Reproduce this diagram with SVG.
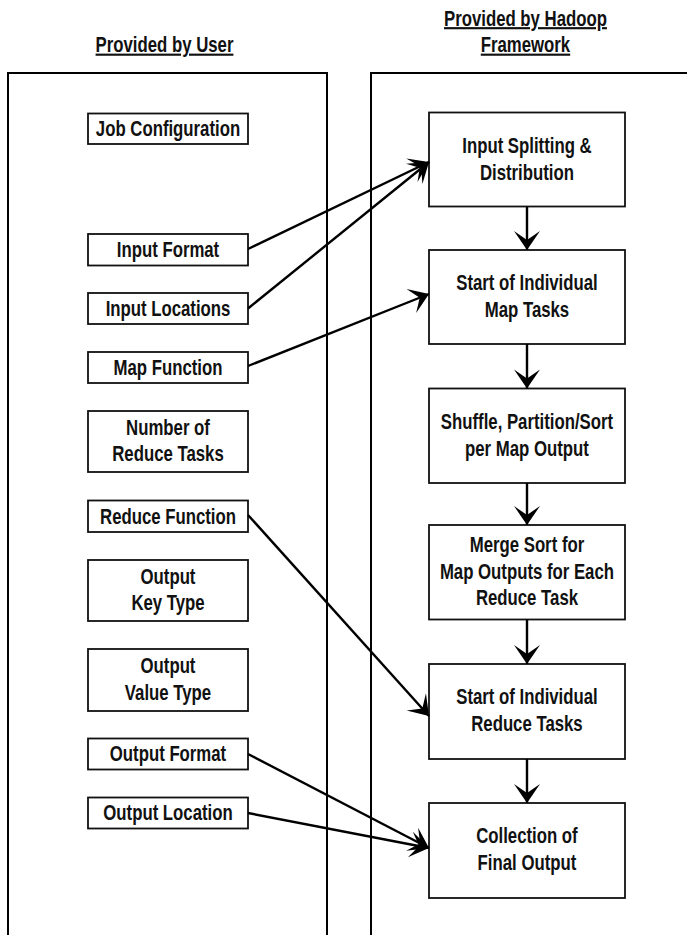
<svg xmlns="http://www.w3.org/2000/svg" width="687" height="935" viewBox="0 0 687 935">
<defs>
<style>
text{font-family:"Liberation Sans",Arial,sans-serif;font-weight:bold;font-size:21.5px;fill:#111;text-anchor:middle}
.hd{text-decoration:underline}
.panel{fill:none;stroke:#000;stroke-width:2}
.box{fill:#fff;stroke:#111;stroke-width:1.8}
.conn{fill:none;stroke:#000;stroke-width:2.4}
</style>
<marker id="ah" markerUnits="userSpaceOnUse" markerWidth="24" markerHeight="28" viewBox="-20 -14 22 28" refX="0" refY="0" orient="auto">
<path d="M0,0 L-19,-13 L-10,0 L-19,13 Z" fill="#000"/>
</marker>
</defs>
<g id="headings">
<text class="hd" transform="scale(0.78 1)" x="210.9" y="52.5">Provided by User</text>
<text class="hd" transform="scale(0.78 1)" x="673.7" y="26">Provided by Hadoop</text>
<text class="hd" transform="scale(0.78 1)" x="673.7" y="52.5">Framework</text>
</g>
<g id="panels">
<rect class="panel" x="8" y="73" width="319" height="880"/>
<rect class="panel" x="371" y="73" width="340" height="880"/>
</g>
<g id="job-configuration"><rect class="box" x="88" y="113.5" width="160" height="30.5"/><text transform="scale(0.78 1)" x="215.4" y="136.5">Job Configuration</text></g>
<g id="input-format"><rect class="box" x="88" y="234" width="160" height="31.5"/><text transform="scale(0.78 1)" x="215.4" y="257.5">Input Format</text></g>
<g id="input-locations"><rect class="box" x="88" y="293" width="160" height="31"/><text transform="scale(0.78 1)" x="215.4" y="316">Input Locations</text></g>
<g id="map-function"><rect class="box" x="88" y="352" width="160" height="31"/><text transform="scale(0.78 1)" x="215.4" y="375">Map Function</text></g>
<g id="number-of-reduce-tasks"><rect class="box" x="88" y="411" width="160" height="61"/><text transform="scale(0.78 1)" x="215.4" y="435">Number of</text><text transform="scale(0.78 1)" x="215.4" y="461.5">Reduce Tasks</text></g>
<g id="reduce-function"><rect class="box" x="88" y="500.5" width="160" height="31.5"/><text transform="scale(0.78 1)" x="215.4" y="524">Reduce Function</text></g>
<g id="output-key-type"><rect class="box" x="88" y="560" width="160" height="61"/><text transform="scale(0.78 1)" x="215.4" y="584">Output</text><text transform="scale(0.78 1)" x="215.4" y="610.5">Key Type</text></g>
<g id="output-value-type"><rect class="box" x="88" y="649" width="160" height="62"/><text transform="scale(0.78 1)" x="215.4" y="673.5">Output</text><text transform="scale(0.78 1)" x="215.4" y="700">Value Type</text></g>
<g id="output-format"><rect class="box" x="88" y="738.5" width="160" height="31"/><text transform="scale(0.78 1)" x="215.4" y="761.5">Output Format</text></g>
<g id="output-location"><rect class="box" x="88" y="797.5" width="160" height="31"/><text transform="scale(0.78 1)" x="215.4" y="820.5">Output Location</text></g>
<g id="input-splitting"><rect class="box" x="429" y="112.5" width="196" height="94"/><text transform="scale(0.78 1)" x="675.6" y="153">Input Splitting &amp;</text><text transform="scale(0.78 1)" x="675.6" y="180">Distribution</text></g>
<g id="start-map-tasks"><rect class="box" x="429" y="250" width="196" height="94"/><text transform="scale(0.78 1)" x="675.6" y="290.5">Start of Individual</text><text transform="scale(0.78 1)" x="675.6" y="317.5">Map Tasks</text></g>
<g id="shuffle-partition-sort"><rect class="box" x="429" y="388.5" width="196" height="94.5"/><text transform="scale(0.78 1)" x="675.6" y="429">Shuffle, Partition/Sort</text><text transform="scale(0.78 1)" x="675.6" y="456">per Map Output</text></g>
<g id="merge-sort"><rect class="box" x="429" y="525" width="196" height="94.5"/><text transform="scale(0.78 1)" x="675.6" y="552">Merge Sort for</text><text transform="scale(0.78 1)" x="675.6" y="579">Map Outputs for Each</text><text transform="scale(0.78 1)" x="675.6" y="605.5">Reduce Task</text></g>
<g id="start-reduce-tasks"><rect class="box" x="429" y="664" width="196" height="95"/><text transform="scale(0.78 1)" x="675.6" y="704.5">Start of Individual</text><text transform="scale(0.78 1)" x="675.6" y="731.5">Reduce Tasks</text></g>
<g id="collection-final-output"><rect class="box" x="429" y="803" width="196" height="95"/><text transform="scale(0.78 1)" x="675.6" y="843.5">Collection of</text><text transform="scale(0.78 1)" x="675.6" y="870.5">Final Output</text></g>
<g id="connectors">
<line class="conn" x1="248" y1="249" x2="429" y2="162" marker-end="url(#ah)"/>
<line class="conn" x1="248" y1="308.5" x2="429" y2="162" marker-end="url(#ah)"/>
<line class="conn" x1="248" y1="366" x2="429" y2="294" marker-end="url(#ah)"/>
<line class="conn" x1="248" y1="515" x2="429" y2="716" marker-end="url(#ah)"/>
<line class="conn" x1="248" y1="754" x2="429" y2="848" marker-end="url(#ah)"/>
<line class="conn" x1="248" y1="813" x2="429" y2="848" marker-end="url(#ah)"/>
<line class="conn" x1="527" y1="206.5" x2="527" y2="250" marker-end="url(#ah)"/>
<line class="conn" x1="527" y1="344" x2="527" y2="388.5" marker-end="url(#ah)"/>
<line class="conn" x1="527" y1="483" x2="527" y2="525" marker-end="url(#ah)"/>
<line class="conn" x1="527" y1="619.5" x2="527" y2="664" marker-end="url(#ah)"/>
<line class="conn" x1="527" y1="759" x2="527" y2="803" marker-end="url(#ah)"/>
</g>
</svg>
